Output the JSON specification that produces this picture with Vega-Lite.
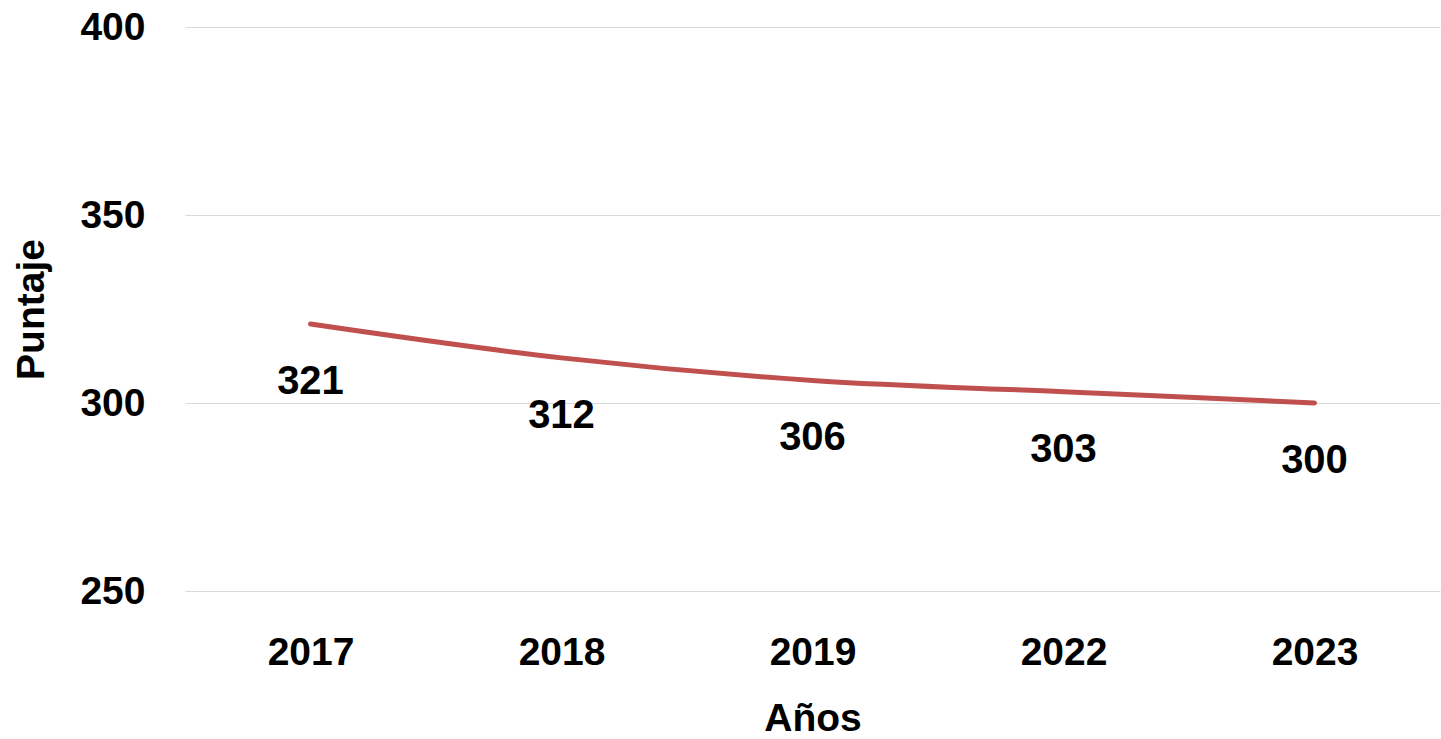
{
  "$schema": "https://vega.github.io/schema/vega-lite/v6.json",
  "width": 1255,
  "height": 564,
  "autosize": {"type": "none"},
  "padding": {"left": 185, "top": 27, "right": 1, "bottom": 148},
  "background": "white",
  "config": {
    "view": {"stroke": null},
    "font": "Liberation Sans"
  },
  "data": {
    "values": [
      {"anio": "2017", "puntaje": 321},
      {"anio": "2018", "puntaje": 312},
      {"anio": "2019", "puntaje": 306},
      {"anio": "2022", "puntaje": 303},
      {"anio": "2023", "puntaje": 300}
    ]
  },
  "encoding": {
    "x": {
      "field": "anio",
      "type": "ordinal",
      "scale": {"type": "point", "padding": 0.5},
      "axis": {
        "title": "Años",
        "labelAngle": 0,
        "labelFont": "Liberation Sans",
        "labelFontSize": 39,
        "labelFontWeight": "bold",
        "labelColor": "#000000",
        "labelPadding": 61,
        "labelBaseline": "middle",
        "ticks": false,
        "domain": false,
        "grid": false,
        "titleFont": "Liberation Sans",
        "titleFontSize": 39,
        "titleFontWeight": "bold",
        "titleColor": "#000000",
        "titleBaseline": "alphabetic",
        "titleY": 139
      }
    },
    "y": {
      "field": "puntaje",
      "type": "quantitative",
      "scale": {"domain": [250, 400], "nice": false, "zero": false},
      "axis": {
        "title": "Puntaje",
        "values": [250, 300, 350, 400],
        "labelFont": "Liberation Sans",
        "labelFontSize": 39,
        "labelFontWeight": "bold",
        "labelColor": "#000000",
        "labelPadding": 40,
        "ticks": false,
        "domain": false,
        "grid": true,
        "gridColor": "#d9d9d9",
        "gridWidth": 1.2,
        "titleFont": "Liberation Sans",
        "titleFontSize": 39,
        "titleFontWeight": "bold",
        "titleColor": "#000000",
        "titleBaseline": "alphabetic",
        "titleX": -142,
        "titleY": 282,
        "titleAngle": 270
      }
    }
  },
  "layer": [
    {
      "mark": {"type": "line", "color": "#c0504d", "strokeWidth": 5, "interpolate": "monotone", "strokeCap": "round"}
    },
    {
      "mark": {"type": "text", "dy": 58, "fontSize": 40, "fontWeight": "bold", "font": "Liberation Sans", "color": "#000000", "baseline": "middle"},
      "encoding": {"text": {"field": "puntaje", "type": "quantitative"}}
    }
  ]
}
